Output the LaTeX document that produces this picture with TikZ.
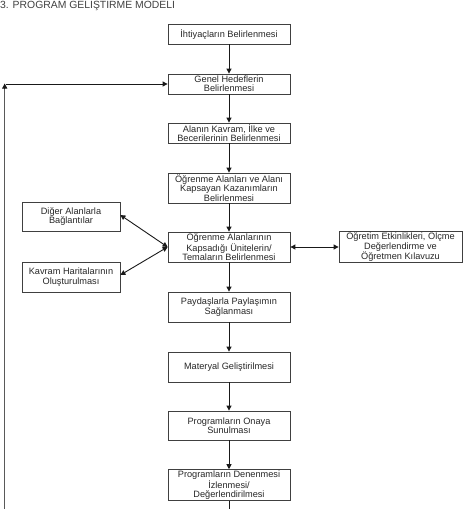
\documentclass[tikz,border=0pt]{standalone}
\usepackage{fontspec}
\setmainfont{Liberation Sans}
\usetikzlibrary{arrows.meta,calc}
\begin{document}
\begin{tikzpicture}[x=1pt,y=-1pt,
  box/.style={draw=black!75,line width=0.8pt,rectangle,align=center,inner sep=1pt,
    font=\fontsize{9.2}{9.3}\selectfont,text=black!85},
  cbox/.style={box,minimum width=122pt},
  arr/.style={line width=0.9pt,draw=black!90,-{Triangle[length=5pt,width=5pt]}},
  darr/.style={line width=0.9pt,draw=black!90,{Triangle[length=5pt,width=5pt]}-{Triangle[length=5pt,width=5pt]}},
  fb/.style={line width=1.4pt,draw=black!65}]
\useasboundingbox (0,0) rectangle (463,509);
\node[anchor=base west,text=black!75,font=\fontsize{10.4}{11}\selectfont,inner sep=0pt] (title) at (0,8) {3. PROGRAM GELİŞTİRME MODELİ};

\node[cbox,minimum height=20pt] (b1) at (229,34) {İhtiyaçların Belirlenmesi};
\node[cbox,minimum height=20pt] (b2) at (229,84) {Genel Hedeflerin\\Belirlenmesi};
\node[cbox,minimum height=20pt] (b3) at (229,133) {Alanın Kavram, İlke ve\\Becerilerinin Belirlenmesi};
\node[cbox,minimum height=30pt] (b4) at (229,188) {Öğrenme Alanları ve Alanı\\Kapsayan Kazanımların\\Belirlenmesi};
\node[cbox,minimum height=30pt] (b5) at (229,247) {Öğrenme Alanlarının\\Kapsadığı Ünitelerin/\\Temaların Belirlenmesi};
\node[cbox,minimum height=30pt] (b6) at (229,307) {Paydaşlarla Paylaşımın\\Sağlanması};
\node[cbox,minimum height=30pt] (b7) at (229,367) {Materyal Geliştirilmesi};
\node[cbox,minimum height=29pt] (b8) at (229,425.5) {Programların Onaya\\Sunulması};
\node[cbox,minimum height=30pt] (b9) at (229,485) {Programların Denenmesi\\İzlenmesi/\\Değerlendirilmesi};

\node[box,minimum width=98pt,minimum height=29pt] (la) at (71,216.5) {Diğer Alanlarla\\Bağlantılar};
\node[box,minimum width=98pt,minimum height=30pt] (lb) at (71,277) {Kavram Haritalarının\\Oluşturulması};
\node[box,minimum width=123pt,minimum height=30pt] (r) at (400.5,247) {Öğretim Etkinlikleri, Ölçme\\Değerlendirme ve\\Öğretmen Kılavuzu};

\draw[arr] (b1) -- (b2);
\draw[arr] (b2) -- (b3);
\draw[arr] (b3) -- (b4);
\draw[arr] (b4) -- (b5);
\draw[arr] (b5) -- (b6);
\draw[arr] (b6) -- (b7);
\draw[arr] (b7) -- (b8);
\draw[arr] (b8) -- (b9);

\draw[darr] (b5.west) -- ([yshift=1.5pt]la.east);
\draw[darr] (b5.west) -- ([yshift=2pt]lb.east);
\draw[darr] (b5.east) -- (r.west);

\coordinate (bot) at (229,509);
\draw[line width=0.9pt,draw=black!90] (b9.south) -- (bot);

\coordinate (fbbot) at (4.7,509);
\coordinate (fbtop) at (4.7,84);
\draw[fb] (fbbot) -- (fbtop);
\draw[line width=0.9pt,draw=black!90,-{Triangle[length=5pt,width=5pt]}] ([yshift=-4pt]fbtop) -- ([yshift=0.5pt]fbtop);
\draw[arr] ([xshift=1pt]fbtop) -- (b2.west);
\end{tikzpicture}
\end{document}
